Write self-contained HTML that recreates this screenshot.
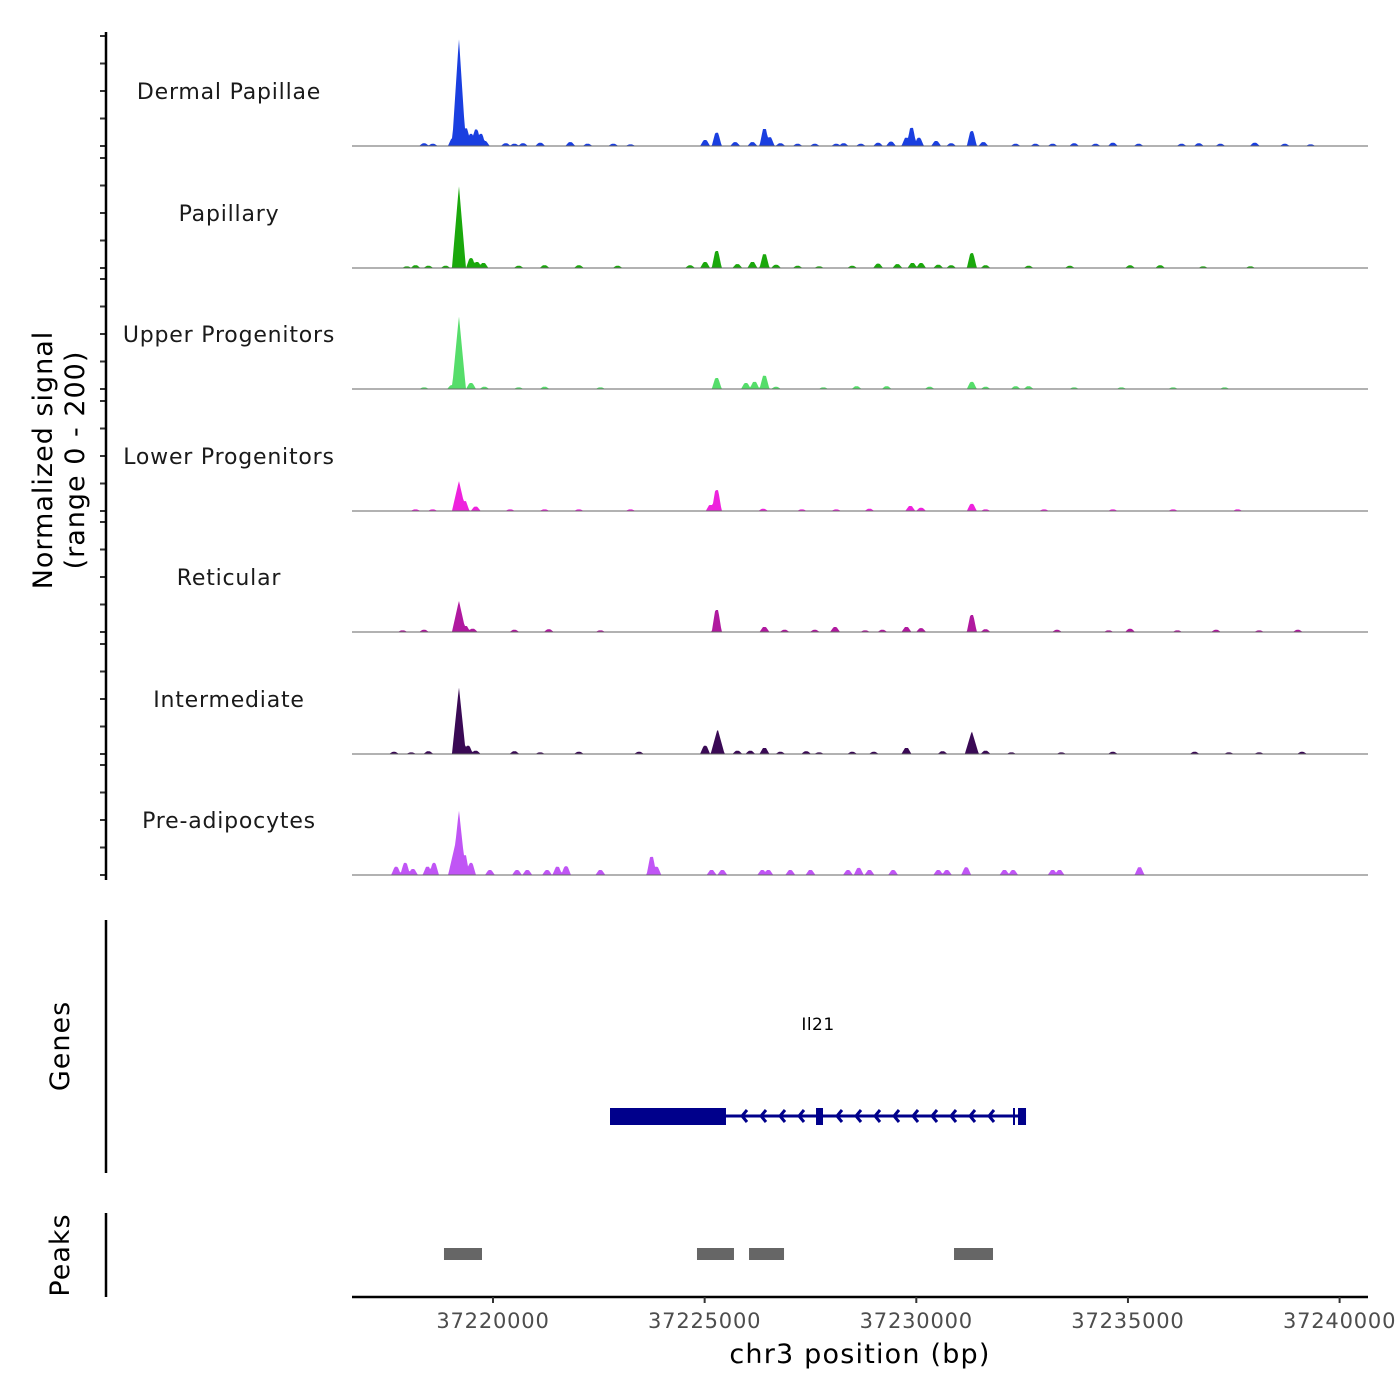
<!DOCTYPE html>
<html><head><meta charset="utf-8"><style>
body{margin:0;background:#fff;}
svg{display:block;font-family:"DejaVu Sans","Liberation Sans",sans-serif;}
</style></head><body>
<svg id="chart" width="1400" height="1400" viewBox="0 0 1400 1400">
<g id="tracks"></g>
<g id="axes"></g>
</svg>
<script>
// ---- data ----
const trackNames = ["Dermal Papillae","Papillary","Upper Progenitors","Lower Progenitors","Reticular","Intermediate","Pre-adipocytes"];
const trackColors = ["#1a3fe0","#1aa80c","#55dd6a","#ee22dd","#b0199f","#3a0a55","#c055f5"];
const tickValues = [0,50,100,150,200];
const xTickValues = [37220000,37225000,37230000,37235000,37240000];
const xTickLabels = ["37220000","37225000","37230000","37235000","37240000"];
// peaks: [position bp, signal]
const dermalPeaks = [[37219195,196],[37219053,14],[37219358,32],[37219480,22],[37219602,30],[37219713,22],[37219805,9],[37218372,5],[37218576,4],[37220302,5],[37220506,4],[37220709,5],[37221115,6],[37221826,7],[37222233,4],[37222842,4],[37223248,3],[37225011,11],[37225285,24],[37225722,7],[37226129,7],[37226413,31],[37226535,16],[37226789,5],[37227195,4],[37227602,4],[37228109,4],[37228284,5],[37228690,4],[37229097,6],[37229402,8],[37229767,15],[37229889,33],[37230062,15],[37230468,9],[37230824,5],[37231311,27],[37231585,7],[37232347,4],[37232815,4],[37233222,4],[37233729,5],[37234237,4],[37234644,6],[37235253,4],[37236269,4],[37236675,5],[37237183,4],[37237996,6],[37238707,4],[37239316,3]];
const papillaryPeaks = [[37219195,150],[37219480,18],[37219622,11],[37219774,9],[37217966,3],[37218169,5],[37218474,4],[37218880,4],[37220607,4],[37221217,5],[37222029,5],[37222944,4],[37224656,5],[37225011,11],[37225285,31],[37225773,7],[37226129,11],[37226413,25],[37226687,6],[37227195,4],[37227703,3],[37228487,4],[37229097,8],[37229554,7],[37229909,9],[37230113,9],[37230519,6],[37230824,5],[37231311,27],[37231636,5],[37232652,4],[37233628,4],[37235050,5],[37235761,5],[37236777,3],[37237894,3]];
const upperPeaks = [[37219195,133],[37219033,7],[37219480,11],[37219795,4],[37218372,3],[37220607,3],[37221217,4],[37222537,3],[37225285,20],[37225976,11],[37226179,13],[37226413,24],[37226687,4],[37227805,3],[37228589,5],[37229300,5],[37230316,4],[37231311,13],[37231636,4],[37232347,5],[37232652,5],[37233729,3],[37234847,3],[37236066,3],[37237285,3]];
const lowerPeaks = [[37219195,55],[37219327,18],[37219591,8],[37218169,3],[37218576,3],[37220404,3],[37221217,3],[37222029,3],[37223248,3],[37225143,11],[37225285,38],[37226383,4],[37227297,3],[37228109,3],[37228894,4],[37229859,9],[37230113,6],[37231311,13],[37231636,3],[37233018,3],[37234644,3],[37236066,3],[37237590,3]];
const reticularPeaks = [[37219195,57],[37219348,11],[37219520,6],[37217865,3],[37218372,4],[37220506,4],[37221318,5],[37222537,3],[37225285,40],[37226413,9],[37226890,4],[37227602,4],[37228081,9],[37228792,3],[37229198,4],[37229767,9],[37230113,7],[37231311,31],[37231636,5],[37233323,4],[37234542,3],[37235050,6],[37236167,3],[37237082,4],[37238097,3],[37239012,4]];
const interPeaks = [[37219195,122],[37219409,15],[37219591,6],[37217661,4],[37218068,3],[37218474,5],[37220506,5],[37221115,3],[37222029,4],[37223451,4],[37225011,15],[37225306,46],[37225773,6],[37226078,6],[37226413,11],[37226789,4],[37227398,5],[37227703,3],[37228487,4],[37228995,4],[37229767,11],[37230620,5],[37231311,42],[37231636,6],[37232246,3],[37233425,3],[37234644,4],[37236574,4],[37237386,3],[37238097,3],[37239113,4]];
const preadipoPeaks = [[37219195,118],[37219104,55],[37219327,36],[37219480,22],[37217712,15],[37217926,22],[37218108,11],[37218454,15],[37218606,22],[37219927,9],[37220567,9],[37220810,9],[37221278,9],[37221521,15],[37221725,16],[37222537,9],[37223746,33],[37223858,15],[37225164,9],[37225418,9],[37226362,9],[37226505,9],[37227023,9],[37227500,9],[37228386,9],[37228640,13],[37228894,9],[37229452,9],[37230519,9],[37230722,9],[37231179,14],[37232083,9],[37232287,9],[37233222,9],[37233384,9],[37235274,14]];
const allPeaks = [dermalPeaks,papillaryPeaks,upperPeaks,lowerPeaks,reticularPeaks,interPeaks,preadipoPeaks];
const geneName = "Il21";
const geneStart = 37222764, geneEnd = 37232592;
const geneExons = [[37222764,37225504],[37227631,37227796],[37232403,37232592]];
const peakRegions = [[37218842,37219740],[37224819,37225693],[37226048,37226875],[37230891,37231812]];

// ---- scales ----
const X0 = 352, X1 = 1368;
const xs = bp => 493 + (bp - 37220000) * 0.04233;
const baselines = [146,268,389,511,632,754,875];
const ys = (i, v) => baselines[i] - v / 200 * 110;
const NS = "http://www.w3.org/2000/svg";
function mk(tag, attrs, parent){const e=document.createElementNS(NS,tag);for(const k in attrs)e.setAttribute(k,attrs[k]);parent.appendChild(e);return e;}
const tracks = document.getElementById('tracks');
const axes = document.getElementById('axes');

trackNames.forEach((name, i) => {
  const g = mk('g', {}, tracks);
  
  
  const h = new Array(X1 - X0 + 1).fill(0);
  allPeaks[i].forEach(([p, v]) => {
    const cx = xs(p);
    const hw = v > 40 ? 7 : 5;
    const flat = v > 40 ? 0 : 1.5;
    for (let x = Math.floor(cx - hw); x <= Math.ceil(cx + hw); x++) {
      const idx = x - X0; if (idx < 0 || idx >= h.length) continue;
      const dist = Math.max(0, Math.abs(x - cx) - flat);
      const val = v * Math.max(0, 1 - dist / (hw - flat));
      if (val > h[idx]) h[idx] = val;
    }
  });
  let d = 'M' + X0 + ' ' + baselines[i];
  h.forEach((v, k) => { d += ' L' + (X0 + k) + ' ' + ys(i, v).toFixed(2); });
  d += ' L' + X1 + ' ' + baselines[i] + ' Z';
  const area = mk('path', {d: d, fill: trackColors[i]}, g);
  
  
  const bl = mk('line', {x1: X0, x2: X1, y1: baselines[i], y2: baselines[i], stroke: '#666', 'stroke-width': 1}, g);
  
  
  const lab = mk('text', {x: 229, y: baselines[i] - 47, 'text-anchor': 'middle', 'font-size': 22, 'letter-spacing': 0.8, fill: '#1a1a1a'}, g);
  lab.textContent = name;
  
  
  tickValues.forEach(t => {
    const tk = mk('line', {x1: 100, x2: 106, y1: ys(i, t), y2: ys(i, t), stroke: '#333', 'stroke-width': 2}, g);
    
    
  });
});

const ya = mk('line', {x1: 106, x2: 106, y1: 32, y2: 880, stroke: '#000', 'stroke-width': 2.5}, axes);


const yt = mk('text', {transform: 'translate(52,460) rotate(-90)', 'text-anchor': 'middle', 'font-size': 27, 'letter-spacing': 1, fill: '#000'}, axes);


mk('tspan', {x: 0, dy: 0}, yt).textContent = 'Normalized signal';
mk('tspan', {x: 0, dy: 32}, yt).textContent = '(range 0 - 200)';

const ga = mk('line', {x1: 106, x2: 106, y1: 920, y2: 1173, stroke: '#000', 'stroke-width': 2.5}, axes);


const gt = mk('text', {transform: 'translate(69,1046) rotate(-90)', 'text-anchor': 'middle', 'font-size': 27, 'letter-spacing': 1}, axes);
gt.textContent = 'Genes';


const gg = mk('g', {}, axes);


mk('line', {x1: xs(geneStart), x2: xs(geneEnd), y1: 1116, y2: 1116, stroke: '#00008b', 'stroke-width': 3}, gg);
geneExons.forEach(([s, e]) => {
  const r = mk('rect', {x: xs(s), y: 1108, width: xs(e) - xs(s), height: 17, fill: '#00008b'}, gg);
  
  
});
mk('line', {x1: 1014, x2: 1014, y1: 1108, y2: 1125, stroke: '#00008b', 'stroke-width': 2}, gg);
for (let x = 742; x < 1005; x += 19) {
  if (x > 806 && x < 832) continue;
  mk('polyline', {points: (x+5)+',1110 '+x+',1116 '+(x+5)+',1122', fill: 'none', stroke: '#00008b', 'stroke-width': 3}, gg);
}
const gl = mk('text', {x: 818, y: 1030, 'text-anchor': 'middle', 'font-size': 17, 'letter-spacing': 0.5}, gg);
gl.textContent = geneName;



const pa = mk('line', {x1: 106, x2: 106, y1: 1213, y2: 1297, stroke: '#000', 'stroke-width': 2.5}, axes);


const pt = mk('text', {transform: 'translate(69,1255) rotate(-90)', 'text-anchor': 'middle', 'font-size': 27, 'letter-spacing': 1}, axes);
pt.textContent = 'Peaks';


peakRegions.forEach(([s, e]) => {
  const r = mk('rect', {x: xs(s), y: 1248, width: xs(e) - xs(s), height: 12, fill: '#666'}, axes);
  
  
});

const xa = mk('line', {x1: X0, x2: X1, y1: 1297, y2: 1297, stroke: '#000', 'stroke-width': 2.5}, axes);


xTickValues.forEach((v, k) => {
  const tk = mk('line', {x1: xs(v), x2: xs(v), y1: 1297, y2: 1303, stroke: '#333', 'stroke-width': 2}, axes);
  
  
  const tl = mk('text', {x: xs(v), y: 1328, 'text-anchor': 'middle', 'font-size': 21, 'letter-spacing': 0.8, fill: '#4d4d4d'}, axes);
  tl.textContent = xTickLabels[k];
  
  
});
const xt = mk('text', {x: 860, y: 1363, 'text-anchor': 'middle', 'font-size': 27, 'letter-spacing': 1.2}, axes);
xt.textContent = 'chr3 position (bp)';


</script>
</body></html>
